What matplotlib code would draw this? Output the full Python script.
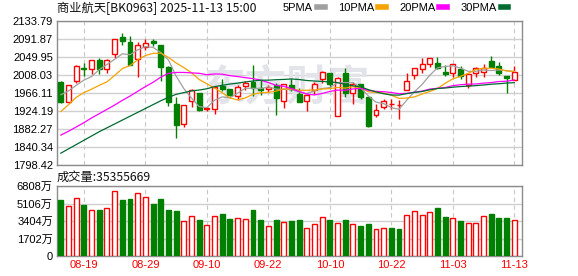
import numpy as np
import matplotlib
matplotlib.use("Agg")
import matplotlib.pyplot as plt
from matplotlib.lines import Line2D

# ---------------- data ----------------
dates = ["08-14", "08-15", "08-18", "08-19", "08-20", "08-21", "08-22", "08-25", "08-26", "08-27",
         "08-28", "08-29", "09-01", "09-02", "09-03", "09-04", "09-05", "09-08", "09-09", "09-10",
         "09-11", "09-12", "09-15", "09-16", "09-17", "09-18", "09-19", "09-22", "09-23", "09-24",
         "09-25", "09-26", "09-29", "09-30", "10-09", "10-10", "10-13", "10-14", "10-15", "10-16",
         "10-17", "10-20", "10-21", "10-22", "10-23", "10-24", "10-27", "10-28", "10-29", "10-30",
         "10-31", "11-03", "11-04", "11-05", "11-06", "11-07", "11-10", "11-11", "11-12", "11-13"]

opens = [1992, 1944, 1994, 2025, 2022, 2042, 2023, 2057, 2096, 2084,
         2046, 2074, 2088, 2078, 2027, 1940, 1895, 1948, 1966, 1928,
         1930, 1982, 1975, 1958, 1982, 1991, 1977, 1975, 1984, 1947,
         1985, 1964, 1947, 1972, 1999, 2013, 1913, 2013, 1965, 1987,
         1956, 1916, 1933, 1940, 1937, 1972, 2007, 2021, 2033, 2035,
         2014, 2013, 2023, 1985, 2013, 2015, 2041, 2028, 2006, 1997]
highs = [1994, 1985, 2031, 2035, 2043, 2047, 2045, 2092, 2106, 2099,
         2085, 2091, 2093, 2079, 2028, 1956, 1938, 1976, 1967, 1934,
         1982, 1998, 1976, 1985, 1994, 2031, 1996, 1984, 1990, 1987,
         1998, 1977, 1961, 1992, 2018, 2013, 2004, 2025, 1992, 1988,
         1956, 1940, 1951, 1951, 1950, 2012, 2025, 2047, 2047, 2049,
         2031, 2033, 2029, 2011, 2027, 2033, 2052, 2038, 2006, 2029]
lows = [1943, 1942, 1990, 2006, 2011, 2011, 2013, 2047, 2078, 2031,
        2004, 2066, 2076, 1995, 1936, 1862, 1886, 1934, 1925, 1925,
        1918, 1970, 1959, 1950, 1972, 1958, 1961, 1969, 1916, 1932,
        1971, 1945, 1925, 1963, 1989, 1975, 1913, 1957, 1940, 1951,
        1887, 1910, 1928, 1928, 1905, 1972, 1999, 2013, 2027, 2023,
        2006, 2003, 1998, 1978, 2004, 2003, 2026, 2008, 1967, 1997]
closes = [1944, 1984, 2030, 2023, 2042, 2023, 2044, 2091, 2087, 2031,
          2079, 2083, 2082, 2027, 1944, 1892, 1937, 1972, 1927, 1932,
          1979, 1975, 1961, 1981, 1990, 1978, 1972, 1981, 1955, 1986,
          1975, 1946, 1961, 1987, 2014, 1986, 2000, 1965, 1987, 1956,
          1889, 1927, 1948, 1940, 1937, 1995, 2025, 2033, 2047, 2024,
          2010, 2033, 2006, 2010, 2024, 2025, 2027, 2013, 2002, 2014]

# volume in 万
volumes = [5440, 4821, 5603, 4951, 4463, 4463, 4625, 6287, 5440, 5538,
           6091, 5700, 5049, 5538, 4463, 4365, 3388, 3844, 3485, 3062,
           3844, 4072, 3583, 3648, 3551, 4463, 3485, 2964, 3485, 3270,
           3400, 3485, 2769, 3160, 3746, 3485, 3257, 3485, 3160, 2899,
           3094, 2671, 2769, 2704, 2606, 3941, 4365, 3941, 4235, 4658,
           3779, 3648, 3388, 3257, 3257, 3844, 4072, 3681, 3681, 3535.5669]

# moving average values before the window is full
ma5_head = [1962, 1971, 1984, 1996]
ma10_head = [1923, 1939, 1956, 1967, 1975, 1984, 1992, 2007, 2023]
ma20_head = [1868, 1877, 1887, 1897, 1908, 1918, 1928, 1938, 1949, 1959,
             1970, 1981, 1991, 2003, 2012, 2014, 2014, 2013, 2012]
ma30_head = [1826, 1836, 1846, 1856, 1866, 1876, 1885, 1894, 1903, 1912,
             1921, 1930, 1939, 1948, 1956, 1963, 1967, 1971, 1973, 1976,
             1981, 1984, 1987, 1989, 1992, 1994, 1996, 1996, 1997]

price_ticks = [1798.42, 1840.34, 1882.27, 1924.19, 1966.11, 2008.03, 2049.95, 2091.87, 2133.79]
vol_ticks = [0, 1702, 3404, 5106, 6808]
label_days = ["08-19", "08-29", "09-10", "09-22", "10-10", "10-22", "11-03", "11-13"]

title = "商业航天[BK0963] 2025-11-13 15:00"
vol_title = "成交量:35355669"

# ---------------- helpers ----------------
def moving_avg(head, n):
    c = np.array(closes, dtype=float)
    out = list(head)
    for i in range(n - 1, len(c)):
        out.append(c[i - n + 1:i + 1].mean())
    return np.array(out)

RED = "#ff0000"
GREEN = "#008000"
FONT = ["Liberation Sans", "Noto Sans CJK SC"]
plt.rcParams["font.family"] = FONT
plt.rcParams["font.size"] = 8

x = np.arange(len(dates))
o = np.array(opens, float)
h = np.array(highs, float)
l = np.array(lows, float)
c = np.array(closes, float)
up = c >= o

# volume colour: by open/close, doji by previous close
vol_up = []
for i in range(len(c)):
    if c[i] != o[i]:
        vol_up.append(c[i] > o[i])
    else:
        vol_up.append(i == 0 or c[i] >= c[i - 1])
vol_up = np.array(vol_up)

fig = plt.figure(figsize=(5.78, 2.76), dpi=100)
W, H = 578, 276
ax = fig.add_axes([57 / W, 1 - 165 / H, 465 / W, 144 / H])
axv = fig.add_axes([57 / W, 1 - 256 / H, 465 / W, 70 / H])

tick_idx = [dates.index(d) for d in label_days]

for a in (ax, axv):
    a.set_xlim(-0.5, len(dates))
    for s in a.spines.values():
        s.set_color("#8c8c8c")
        s.set_linewidth(1.0)
    a.tick_params(length=0, colors="#000000", pad=3)
    for t in tick_idx:
        a.axvline(t, color="#c8c8c8", lw=0.8, ls=(0, (4, 3)), zorder=0)

# ---------------- candles ----------------
bw = 0.64
ax.vlines(x[up], l[up], h[up], color=RED, lw=1.0, zorder=2)
ax.vlines(x[~up], l[~up], h[~up], color=GREEN, lw=1.0, zorder=2)
body_lo = np.minimum(o, c)
body_h = np.abs(c - o)
ax.bar(x[up], body_h[up], bottom=body_lo[up], width=bw, facecolor="white",
       edgecolor=RED, linewidth=1.0, zorder=3)
ax.bar(x[~up], body_h[~up], bottom=body_lo[~up], width=bw, facecolor=GREEN,
       edgecolor=GREEN, linewidth=1.0, zorder=3)

ma_colors = ["#a0a0a0", "#f5a300", "#ff00ff", "#006b30"]
mas = [moving_avg(ma5_head, 5), moving_avg(ma10_head, 10),
       moving_avg(ma20_head, 20), moving_avg(ma30_head, 30)]
for m, col in zip(mas, ma_colors):
    ax.plot(x, m, color=col, lw=0.9, zorder=4)

ax.set_ylim(price_ticks[0], price_ticks[-1])
ax.set_yticks(price_ticks)
ax.set_yticklabels([f"{v:.2f}" for v in price_ticks])
ax.set_xticks(tick_idx)
ax.set_xticklabels([])
ax.grid(axis="y", color="#d0d0d0", lw=1.0, ls="-", zorder=0)
ax.set_axisbelow(True)

# watermark
ax.text(29.4, 1978, "东方财富", fontsize=30, color="#e2e4ea", ha="center", va="center",
        family=["Noto Sans CJK SC"], fontweight="bold", zorder=1)

# ---------------- volume ----------------
axv.bar(x[vol_up], np.array(volumes)[vol_up], width=bw, facecolor="white",
        edgecolor=RED, linewidth=1.0, zorder=3)
axv.bar(x[~vol_up], np.array(volumes)[~vol_up], width=bw, facecolor=GREEN,
        edgecolor=GREEN, linewidth=1.0, zorder=3)
axv.set_ylim(0, vol_ticks[-1])
axv.set_yticks(vol_ticks)
axv.set_yticklabels([f"{v}万" if v else "0" for v in vol_ticks])
axv.grid(axis="y", color="#d0d0d0", lw=1.0, ls="-", zorder=0)
axv.set_axisbelow(True)
axv.set_xticks(tick_idx)
axv.set_xticklabels(label_days, color=RED)

# ---------------- texts ----------------
fig.text(57 / W, 1 - 8 / H, title, fontsize=8.8, va="center", ha="left",
         family=["Noto Sans CJK SC", "DejaVu Sans"], color="#111111")
fig.text(57 / W, 1 - 177 / H, vol_title, fontsize=8.8, va="center", ha="left",
         family=["Noto Sans CJK SC", "DejaVu Sans"], color="#111111")

handles = [Line2D([0], [0], color=col, lw=4) for col in ma_colors]
fig.legend(handles, ["5PMA", "10PMA", "20PMA", "30PMA"], loc="center right",
           bbox_to_anchor=(514 / W, 1 - 8 / H), ncol=4, frameon=False,
           markerfirst=False, handlelength=0.7, handletextpad=0.35,
           columnspacing=1.2, borderpad=0, fontsize=8)

fig.savefig("out.png", dpi=100)
